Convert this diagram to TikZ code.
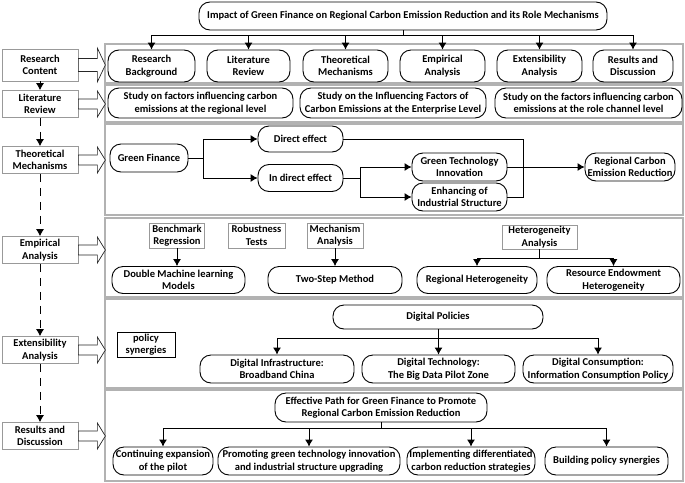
\documentclass[tikz,border=0pt]{standalone}
\usepackage{fontspec}
\setmainfont{Carlito}
\usetikzlibrary{arrows.meta}
\begin{document}
\begin{tikzpicture}[x=1pt,y=-1pt,line width=0.9pt,
  every node/.style={font=\fontsize{10.5}{12.5}\selectfont\bfseries,align=center,inner sep=0.5pt},
  rnd/.style 2 args={draw,rounded corners=11pt,minimum width=#1,minimum height=#2},
  gbox/.style 2 args={draw=gray!80,line width=0.7pt,minimum width=#1,minimum height=#2},
  side/.style={draw=gray!80,line width=0.7pt,minimum width=76,minimum height=27},
  panel/.style={draw=gray!60,line width=1.4pt},
  >={Latex[length=7pt,width=8pt]},
  harrow/.pic={\draw[gray!30!black,fill=white,line width=0.7pt] (0,-5) -- (19,-5) -- (19,-13) -- (27,0) -- (19,13) -- (19,5) -- (0,5) -- cycle;}]
\useasboundingbox (0,0) rectangle (685,482);
% panels
\draw[panel] (105,44) rectangle (683,83);
\draw[panel] (105,85) rectangle (683,122);
\draw[panel] (105,124) rectangle (683,215);
\draw[panel] (105,218) rectangle (683,297);
\draw[panel] (105,299) rectangle (683,388);
\draw[panel] (105,390) rectangle (683,481);

% title
\node[rnd={408}{28}] (title) at (403,16) {Impact of Green Finance on Regional Carbon Emission Reduction and its Role Mechanisms};

% left column
\node[side,minimum height=32] (rc) at (40,65) {Research\\Content};
\node[side] (lit) at (40,104) {Literature\\Review};
\node[side] (thm) at (40,160) {Theoretical\\Mechanisms};
\node[side] (emp) at (40,250) {Empirical\\Analysis};
\node[side] (ext) at (40,350) {Extensibility\\Analysis};
\node[side] (res) at (40,436) {Results and\\Discussion};
\pic[yscale=1.3] at (rc.east) {harrow};
\foreach \s in {lit,thm,emp,ext,res}
\pic at (\s.east) {harrow};
\draw[->] (rc) -- (lit);
\draw[->,dash pattern=on 8pt off 6pt] (lit) -- (thm);
\draw[->,dash pattern=on 8pt off 6pt] (thm) -- (emp);
\draw[->,dash pattern=on 8pt off 6pt] (emp) -- (ext);
\draw[->,dash pattern=on 8pt off 6pt] (ext) -- (res);

% research content
\node[rnd={87}{32}] (rb) at (151.5,66) {Research\\Background};
\node[rnd={83}{32}] (lr) at (248.5,66) {Literature\\Review};
\node[rnd={85}{32}] (tm) at (345.5,66) {Theoretical\\Mechanisms};
\node[rnd={85}{32}] (ea) at (442.5,66) {Empirical\\Analysis};
\node[rnd={85}{32}] (xa) at (539.5,66) {Extensibility\\Analysis};
\node[rnd={80}{32}] (rd) at (633,66) {Results and\\Discussion};
\foreach \n in {rb,lr,tm,ea,xa,rd}
\draw[->] (title.south) -- ++(0,5) -| (\n.north);

% literature review
\node[rnd={185}{30}] (s1) at (200.5,103) {Study on factors influencing carbon\\emissions at the regional level};
\node[rnd={186}{30}] (s2) at (393,103) {Study on the Influencing Factors of\\Carbon Emissions at the Enterprise Level};
\node[rnd={187}{30}] (s3) at (588.5,103) {Study on the factors influencing carbon\\emissions at the role channel level};

% theoretical mechanisms
\node[rnd={78}{28}] (gf) at (149,158) {Green Finance};
\node[rnd={85}{26}] (de) at (300.5,139) {Direct effect};
\node[rnd={85}{27}] (ie) at (300.5,178) {In direct effect};
\node[rnd={95}{28}] (gti) at (459.5,167) {Green Technology\\Innovation};
\node[rnd={95}{28}] (eis) at (459.5,197) {Enhancing of\\Industrial Structure};
\node[rnd={90}{28}] (rcer) at (630,167) {Regional Carbon\\Emission Reduction};
\draw[->] (gf.east) -- ++(15,0) |- (de.west);
\draw[->] (gf.east) -- ++(15,0) |- (ie.west);
\draw[->] (ie.east) -- ++(17,0) |- (gti.west);
\draw[->] (ie.east) -- ++(17,0) |- (eis.west);
\draw[->] (gti.east) -- (rcer.west);
\draw (de.east) -| ([xshift=16]eis.east) -- (eis.east);

% empirical analysis
\node[gbox={55}{25}] (br) at (177,235.5) {Benchmark\\Regression};
\node[gbox={57}{25}] (rt) at (256.5,235.5) {Robustness\\Tests};
\node[gbox={56}{25}] (ma) at (335,235.5) {Mechanism\\Analysis};
\node[gbox={75}{24}] (ha) at (539.5,237) {Heterogeneity\\Analysis};
\node[rnd={133}{27}] (dml) at (178.5,280) {Double Machine learning\\Models};
\node[rnd={134}{27}] (tsm) at (335,280) {Two-Step Method};
\node[rnd={120}{27}] (rh) at (477,280) {Regional Heterogeneity};
\node[rnd={133}{27}] (reh) at (613.5,280) {Resource Endowment\\Heterogeneity};
\draw[->] (br.south) -- (br.south |- dml.north);
\draw[->] (ma.south) -- (tsm.north);
\draw[->] (ha.south) -- ++(0,9) -| (rh.north);
\draw[->] (ha.south) -- ++(0,9) -| (reh.north);

% extensibility analysis
\node[draw,minimum width=58,minimum height=25] (ps) at (146,344.5) {policy\\synergies};
\node[rnd={210}{24}] (dp) at (438,317) {Digital Policies};
\node[rnd={154}{28}] (di) at (277,369) {Digital Infrastructure:\\Broadband China};
\node[rnd={153}{28}] (dt) at (438.5,369) {Digital Technology:\\The Big Data Pilot Zone};
\node[rnd={150}{28}] (dc) at (598,369) {Digital Consumption:\\Information Consumption Policy};
\foreach \n in {di,dt,dc}
\draw[->] (dp.south) -- ++(0,9) -| (\n.north);

% results and discussion
\node[rnd={212}{29}] (ep) at (381,407.5) {Effective Path for Green Finance to Promote\\Regional Carbon Emission Reduction};
\node[rnd={100}{28}] (c1) at (163,461) {Continuing expansion\\of the pilot};
\node[rnd={182}{28}] (c2) at (309,461) {Promoting green technology innovation\\and industrial structure upgrading};
\node[rnd={128}{28}] (c3) at (471,461) {Implementing differentiated\\carbon reduction strategies};
\node[rnd={123}{28}] (c4) at (606.5,461) {Building policy synergies};
\foreach \n in {c1,c2,c3,c4}
\draw[->] (ep.south) -- ++(0,6) -| (\n.north);
\end{tikzpicture}
\end{document}
